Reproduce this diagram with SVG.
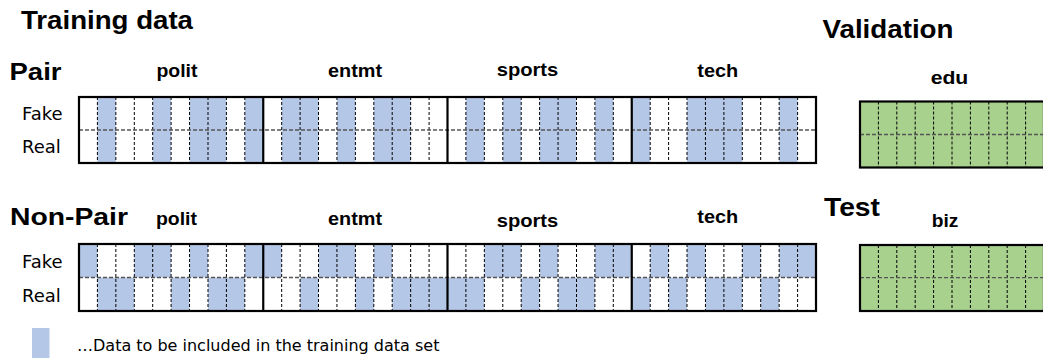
<svg xmlns="http://www.w3.org/2000/svg" width="1043" height="358" viewBox="0 0 1043 358">
<style>
.h{font-family:"Liberation Sans",Arial,sans-serif;font-weight:bold;fill:#000}
.big{font-size:26.5px}
.mid{font-size:24.5px}
.lab{font-size:19px}
.rl{font-family:"DejaVu Sans",Verdana,sans-serif;font-size:18px;fill:#000}
.lg{font-family:"DejaVu Sans",Verdana,sans-serif;font-size:16px;fill:#000}
.b{fill:#B4C7E7}
.g{fill:#A9D18E}
.vd{fill:none;stroke:#000;stroke-width:1;stroke-dasharray:3 2}
.hd{fill:none;stroke:#555;stroke-width:1.3;stroke-dasharray:4 2}
.bd{fill:none;stroke:#000;stroke-width:2.2}
</style>
<rect width="1043" height="358" fill="#fff"/>
<g id="titles">
<text class="h big" x="21" y="29" textLength="172" lengthAdjust="spacingAndGlyphs">Training data</text>
<text class="h big" x="822.5" y="37.5" textLength="131" lengthAdjust="spacingAndGlyphs">Validation</text>
<text class="h big" x="824" y="216" textLength="56" lengthAdjust="spacingAndGlyphs">Test</text>
</g>
<g id="pair">
<text class="h mid" x="9.5" y="80" textLength="52" lengthAdjust="spacingAndGlyphs">Pair</text>
<text class="h lab" x="156.5" y="77.3" textLength="41" lengthAdjust="spacingAndGlyphs">polit</text>
<text class="h lab" x="328" y="77" textLength="54" lengthAdjust="spacingAndGlyphs">entmt</text>
<text class="h lab" x="496.7" y="76" textLength="61.6" lengthAdjust="spacingAndGlyphs">sports</text>
<text class="h lab" x="697.3" y="77.3" textLength="41" lengthAdjust="spacingAndGlyphs">tech</text>
<text class="rl" x="22" y="120">Fake</text>
<text class="rl" x="22" y="153">Real</text>
<g>
<rect class="b" x="97.4" y="97" width="18.43" height="66"/>
<rect class="b" x="152.7" y="97" width="18.43" height="66"/>
<rect class="b" x="189.55" y="97" width="36.85" height="66"/>
<rect class="b" x="244.8" y="97" width="18.43" height="66"/>
<rect class="b" x="281.7" y="97" width="36.85" height="66"/>
<rect class="b" x="336.95" y="97" width="18.43" height="66"/>
<rect class="b" x="373.8" y="97" width="36.85" height="66"/>
<rect class="b" x="465.9" y="97" width="18.43" height="66"/>
<rect class="b" x="502.8" y="97" width="18.43" height="66"/>
<rect class="b" x="539.6" y="97" width="36.85" height="66"/>
<rect class="b" x="594.9" y="97" width="18.43" height="66"/>
<rect class="b" x="631.75" y="97" width="18.43" height="66"/>
<rect class="b" x="687.0" y="97" width="55.3" height="66"/>
<rect class="b" x="779.15" y="97" width="18.43" height="66"/>
</g>
<path class="vd" d="M97.4 97V163M115.85 97V163M134.3 97V163M152.7 97V163M171.1 97V163M189.55 97V163M208 97V163M226.4 97V163M244.8 97V163M281.7 97V163M300.1 97V163M318.5 97V163M336.95 97V163M355.4 97V163M373.8 97V163M392.2 97V163M410.65 97V163M429.1 97V163M465.9 97V163M484.35 97V163M502.8 97V163M521.2 97V163M539.6 97V163M558.05 97V163M576.5 97V163M594.9 97V163M613.3 97V163M650.2 97V163M668.6 97V163M687 97V163M705.45 97V163M723.9 97V163M742.3 97V163M760.7 97V163M779.15 97V163M797.6 97V163"/>
<path class="hd" d="M79 130H816"/>
<rect class="bd" x="79" y="97" width="737" height="66"/>
<path class="bd" d="M263.25 97V163M447.5 97V163M631.75 97V163"/>
</g>
<g id="nonpair">
<text class="h mid" x="10" y="224.5" textLength="118" lengthAdjust="spacingAndGlyphs">Non-Pair</text>
<text class="h lab" x="156" y="224.5" textLength="41" lengthAdjust="spacingAndGlyphs">polit</text>
<text class="h lab" x="328" y="225" textLength="54" lengthAdjust="spacingAndGlyphs">entmt</text>
<text class="h lab" x="496.7" y="226.5" textLength="61.6" lengthAdjust="spacingAndGlyphs">sports</text>
<text class="h lab" x="697.3" y="223.3" textLength="41" lengthAdjust="spacingAndGlyphs">tech</text>
<text class="rl" x="22" y="268.3">Fake</text>
<text class="rl" x="22" y="301.7">Real</text>
<g>
<rect class="b" x="79" y="244" width="18.43" height="33.5"/>
<rect class="b" x="134.3" y="244" width="36.85" height="33.5"/>
<rect class="b" x="189.55" y="244" width="18.43" height="33.5"/>
<rect class="b" x="244.8" y="244" width="36.85" height="33.5"/>
<rect class="b" x="318.5" y="244" width="36.85" height="33.5"/>
<rect class="b" x="373.8" y="244" width="18.43" height="33.5"/>
<rect class="b" x="484.35" y="244" width="36.85" height="33.5"/>
<rect class="b" x="539.6" y="244" width="18.43" height="33.5"/>
<rect class="b" x="594.9" y="244" width="36.85" height="33.5"/>
<rect class="b" x="650.2" y="244" width="18.43" height="33.5"/>
<rect class="b" x="687" y="244" width="18.43" height="33.5"/>
<rect class="b" x="742.3" y="244" width="18.43" height="33.5"/>
<rect class="b" x="779.15" y="244" width="36.85" height="33.5"/>

<rect class="b" x="97.4" y="277.5" width="36.85" height="33.5"/>
<rect class="b" x="171.1" y="277.5" width="18.43" height="33.5"/>
<rect class="b" x="208" y="277.5" width="36.85" height="33.5"/>
<rect class="b" x="300.1" y="277.5" width="18.43" height="33.5"/>
<rect class="b" x="355.4" y="277.5" width="18.43" height="33.5"/>
<rect class="b" x="392.2" y="277.5" width="92.15" height="33.5"/>
<rect class="b" x="521.2" y="277.5" width="18.43" height="33.5"/>
<rect class="b" x="558.05" y="277.5" width="36.85" height="33.5"/>
<rect class="b" x="631.75" y="277.5" width="18.43" height="33.5"/>
<rect class="b" x="668.6" y="277.5" width="18.43" height="33.5"/>
<rect class="b" x="705.45" y="277.5" width="36.85" height="33.5"/>
<rect class="b" x="760.7" y="277.5" width="18.43" height="33.5"/>
</g>
<path class="vd" d="M97.4 244V311M115.85 244V311M134.3 244V311M152.7 244V311M171.1 244V311M189.55 244V311M208 244V311M226.4 244V311M244.8 244V311M281.7 244V311M300.1 244V311M318.5 244V311M336.95 244V311M355.4 244V311M373.8 244V311M392.2 244V311M410.65 244V311M429.1 244V311M465.9 244V311M484.35 244V311M502.8 244V311M521.2 244V311M539.6 244V311M558.05 244V311M576.5 244V311M594.9 244V311M613.3 244V311M650.2 244V311M668.6 244V311M687 244V311M705.45 244V311M723.9 244V311M742.3 244V311M760.7 244V311M779.15 244V311M797.6 244V311"/>
<path class="hd" d="M79 277.5H816"/>
<rect class="bd" x="79" y="244" width="737" height="67"/>
<path class="bd" d="M263.25 244V311M447.5 244V311M631.75 244V311"/>
</g>
<g id="validation">
<text class="h lab" x="930.7" y="84" textLength="37.6" lengthAdjust="spacingAndGlyphs">edu</text>
<rect class="g" x="860" y="101.5" width="184" height="66"/>
<path class="vd" d="M878.4 101.5V167.5M896.8 101.5V167.5M915.2 101.5V167.5M933.6 101.5V167.5M952 101.5V167.5M970.4 101.5V167.5M988.8 101.5V167.5M1007.2 101.5V167.5M1025.6 101.5V167.5"/>
<path class="hd" d="M860 134.5H1044"/>
<rect class="bd" x="860" y="101.5" width="184" height="66"/>
</g>
<g id="test">
<text class="h lab" x="931.7" y="226.7" textLength="26.6" lengthAdjust="spacingAndGlyphs">biz</text>
<rect class="g" x="860" y="245" width="184" height="66"/>
<path class="vd" d="M878.4 245V311M896.8 245V311M915.2 245V311M933.6 245V311M952 245V311M970.4 245V311M988.8 245V311M1007.2 245V311M1025.6 245V311"/>
<path class="hd" d="M860 277.7H1044"/>
<rect class="bd" x="860" y="245" width="184" height="66"/>
</g>
<g id="legend">
<rect class="b" x="32" y="328" width="17.5" height="30"/>
<text class="lg" x="77" y="351">…Data to be included in the training data set</text>
</g>
</svg>
